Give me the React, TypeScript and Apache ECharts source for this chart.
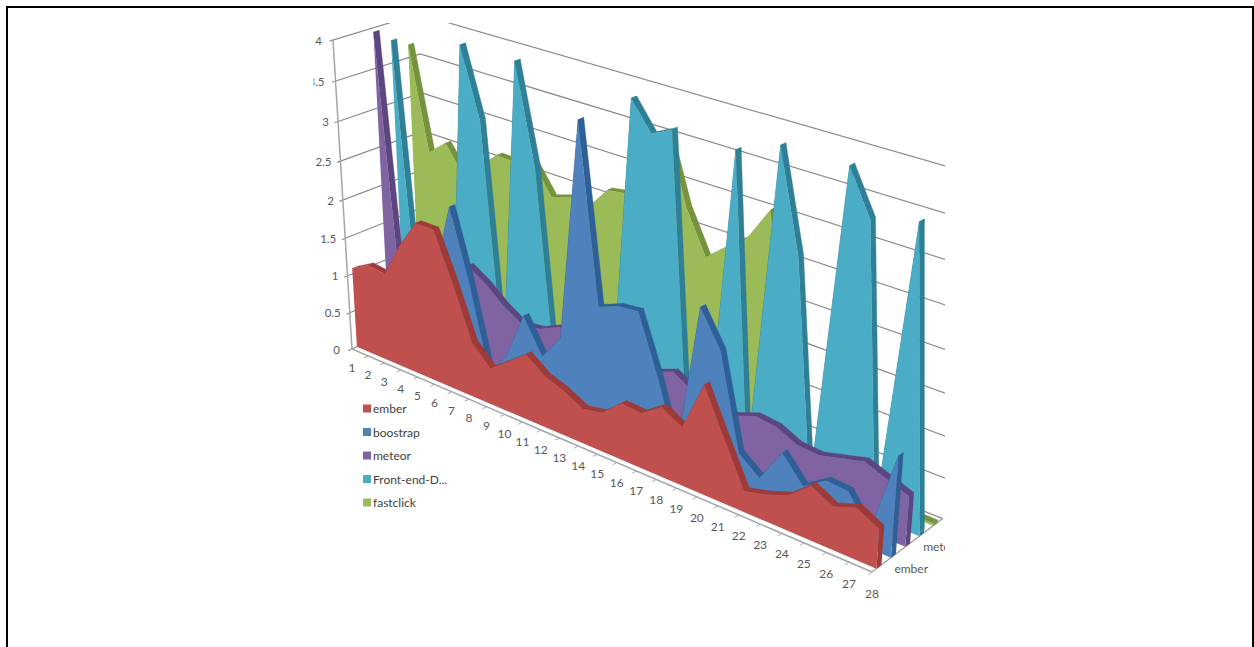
import React, { useEffect, useRef } from "react";
import * as echarts from "echarts";

const categories = Array.from({ length: 28 }, (_, i) => String(i + 1));
const valueTicks = [0, 0.5, 1, 1.5, 2, 2.5, 3, 3.5, 4];
const seriesNames = ["ember", "boostrap", "meteor", "Front-end-D...", "fastclick"];
const depthLabels = ["ember", "", "meteor"];

const ember = [1.07, 1.2, 1.17, 1.63, 2.0, 2.0, 1.4, 0.72, 0.48, 0.66, 0.85, 0.67, 0.58, 0.45, 0.5, 0.72, 0.7, 0.88, 0.73, 1.35, 0.8, 0.26, 0.33, 0.43, 0.66, 0.52, 0.62, 0.48];
const boostrap = [0.6, 0.6, 0.7, 0.9, 1.25, 2.2, 1.3, 0.2, 0.53, 1.15, 0.72, 1.05, 3.78, 1.63, 1.73, 1.76, 1.05, 0.2, 2.08, 1.65, 0.5, 0.3, 0.72, 0.42, 0.6, 0.58, 0.2, 1.22];
const meteor = [3.95, 0.15, 0.4, 0.6, 0.9, 1.35, 1.2, 1.0, 0.85, 0.88, 1.0, 1.0, 0.9, 0.8, 0.9, 0.9, 1.0, 0.85, 0.8, 0.75, 0.85, 0.82, 0.7, 0.68, 0.75, 0.82, 0.72, 0.62];
const frontEnd = [3.78, 0.05, 0.05, 0.05, 3.98, 3.12, 0.05, 3.98, 2.75, 0.05, 0.05, 0.05, 0.05, 3.95, 3.61, 3.73, 0.05, 0.05, 3.72, 0.05, 3.92, 2.74, 0.05, 3.92, 3.41, 0.05, 3.55, 0.05];
const fastclick = [3.66, 2.35, 2.54, 2.2, 2.4, 2.61, 2.6, 2.67, 2.31, 2.39, 2.34, 2.63, 2.67, 2.9, 3.55, 2.74, 2.22, 2.43, 2.63, 3.03, 0.03, 0.03, 0.03, 0.03, 0.03, 0.03, 0.03, 0.03];

const seriesValues = [ember, boostrap, meteor, frontEnd, fastclick];
const faceColors = ["#C0504D", "#4F81BD", "#8064A2", "#4BACC6", "#9BBB59"];
const sideColors = ["#9E3A37", "#2F5F97", "#5D4580", "#2F7F95", "#75923C"];

const GRID = { left: 100, top: 100, width: 1000, height: 400 };
const TEXT = "#595959";
const FONT = "Lato";
const CLIP = { type: "rect", shape: { x: 313.5, y: 23, width: 631.5, height: 600 } };

// Perspective of the chart box: u along categories, t up the value axis, w into depth.
function cam(u: number, t: number, w: number): number[] {
  const d = 1 - 0.171 * u - 0.07 * t + 0.04 * w;
  return [
    (352 + 370.9 * u - 42.3 * t + 96.2 * w) / d,
    (349 + 125.2 * u - 311.8 * t - 23.5 * w) / d,
  ];
}

function project(api: any, cat: number, value: number, w: number): number[] {
  const p = api.coord([cat, value]);
  const u = (p[0] - GRID.left) / GRID.width;
  const t = (GRID.top + GRID.height - p[1]) / GRID.height;
  return cam(u, t, w);
}

function ribbonRenderer(slot: number) {
  const w0 = slot * 0.2 + 0.06;
  const w1 = w0 + 0.068;
  return (params: any, api: any) => {
    if (params.dataIndex !== 0) return null;
    const n = categories.length;
    const vals: number[] = [];
    for (let i = 0; i < n; i++) vals.push(api.value(1, i));
    const children: any[] = [];
    const side = sideColors[slot];
    for (let i = 0; i < n - 1; i++) {
      children.push({
        type: "polygon",
        shape: {
          points: [
            project(api, i, vals[i], w0),
            project(api, i + 1, vals[i + 1], w0),
            project(api, i + 1, vals[i + 1], w1),
            project(api, i, vals[i], w1),
          ],
        },
        style: { fill: side, stroke: side, lineWidth: 0.4 },
      });
    }
    children.push({
      type: "polygon",
      shape: {
        points: [
          project(api, n - 1, 0, w0),
          project(api, n - 1, vals[n - 1], w0),
          project(api, n - 1, vals[n - 1], w1),
          project(api, n - 1, 0, w1),
        ],
      },
      style: { fill: side },
    });
    const face: number[][] = [project(api, 0, 0, w0)];
    for (let i = 0; i < n; i++) face.push(project(api, i, vals[i], w0));
    face.push(project(api, n - 1, 0, w0));
    children.push({
      type: "polygon",
      shape: { points: face },
      style: { fill: faceColors[slot] },
    });
    return { type: "group", clipPath: CLIP, children };
  };
}

function axesRenderer(params: any, api: any) {
  if (params.dataIndex !== 0) return null;
  const n = categories.length;
  const line = (a: number[], b: number[], stroke: string, lineWidth: number) => ({
    type: "line",
    shape: { x1: a[0], y1: a[1], x2: b[0], y2: b[1] },
    style: { stroke, lineWidth },
  });
  const grid = "#8C8C8C";
  const axis = "#A6A6A6";
  const children: any[] = [];
  valueTicks.forEach((v) => {
    children.push(line(project(api, 0, v, -0.04), project(api, 0, v, 1), grid, 1.2));
    children.push(line(project(api, 0, v, 1), project(api, n - 1, v, 1), grid, 1.2));
    const p = project(api, 0, v, 0);
    const gap = v >= 3.5 ? 11 : v === 0 ? 12 : 9;
    children.push({
      type: "text",
      style: { text: String(v), x: p[0] - gap, y: p[1], align: "right", verticalAlign: "middle", fill: TEXT, fontSize: 11.5, fontFamily: FONT },
    });
  });
  children.push(line(project(api, 0, 0, 0), project(api, 0, 4, 0), axis, 1.5));
  children.push(line(project(api, 0, 0, 0), project(api, n - 1, 0, 0), axis, 1.5));
  children.push(line(project(api, n - 1, 0, 0), project(api, n - 1, 0, 1), axis, 1.5));
  categories.forEach((c, i) => {
    const a = project(api, i, 0, 0);
    children.push(line(a, project(api, i, 0, -0.05), axis, 1));
    children.push({
      type: "text",
      style: { text: c, x: a[0], y: a[1] + 18 + (3 * i) / (n - 1), align: "center", verticalAlign: "middle", fill: TEXT, fontSize: 12, fontFamily: FONT },
    });
  });
  depthLabels.forEach((label, k) => {
    if (!label) return;
    const a = project(api, n - 1, 0, k * 0.2 + 0.1);
    children.push({
      type: "text",
      style: { text: label, x: a[0] + 15, y: a[1] + 2, align: "left", verticalAlign: "middle", fill: TEXT, fontSize: 12, fontFamily: FONT },
    });
  });
  return { type: "group", clipPath: CLIP, children };
}

export default function App() {
  const ref = useRef<HTMLDivElement>(null);
  useEffect(() => {
    const chart = echarts.init(ref.current!, undefined, { renderer: "svg" });
    const ribbons = [4, 3, 2, 1, 0].map((slot) => ({
      type: "custom",
      name: seriesNames[slot],
      coordinateSystem: "cartesian2d",
      silent: true,
      itemStyle: { color: faceColors[slot] },
      data: seriesValues[slot].map((v, i) => [i, v]),
      renderItem: ribbonRenderer(slot),
    }));
    chart.setOption({
      animation: false,
      backgroundColor: "#FFFFFF",
      grid: { left: GRID.left, top: GRID.top, width: GRID.width, height: GRID.height },
      xAxis: { type: "category", data: categories, boundaryGap: false, show: false },
      yAxis: { type: "value", min: 0, max: 4, interval: 0.5, show: false },
      legend: {
        data: seriesNames,
        orient: "vertical",
        left: 363,
        top: 402,
        icon: "rect",
        itemWidth: 8,
        itemHeight: 8,
        itemGap: 10.5,
        padding: 0,
        selectedMode: false,
        textStyle: { color: "#404040", fontSize: 12, fontFamily: FONT, lineHeight: 13, padding: [0, 0, 0, -3] },
      },
      graphic: [
        {
          type: "polyline",
          shape: { points: [[7, 647], [7, 7], [1253, 7], [1253, 647]] },
          style: { stroke: "#000000", lineWidth: 2, fill: "none" },
          silent: true,
        },
      ],
      series: [
        {
          type: "custom",
          name: "axes",
          coordinateSystem: "cartesian2d",
          silent: true,
          data: [[0, 0]],
          renderItem: axesRenderer,
        },
        ...ribbons,
      ],
    });
    return () => chart.dispose();
  }, []);
  return (
    <div
      ref={ref}
      style={{ position: "absolute", left: 0, top: 0, width: 1254, height: 647 }}
    />
  );
}
